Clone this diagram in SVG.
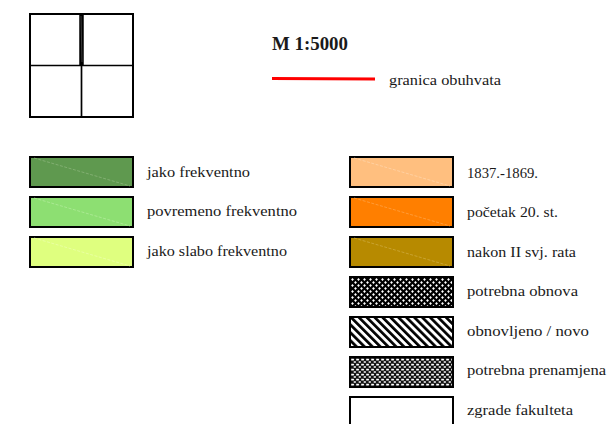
<svg xmlns="http://www.w3.org/2000/svg" width="611" height="424" viewBox="0 0 611 424">
<style>
text{font-family:"Liberation Serif",serif;font-size:14.5px;fill:#1a1a1a}
.b{stroke:#000;stroke-width:2;fill:none}
.box{stroke:#000;stroke-width:2}
.d{stroke-width:.7;stroke-dasharray:3 1.5;fill:none}
</style>
<defs>
<pattern id="p1" width="6" height="6" patternUnits="userSpaceOnUse" x="351" y="278">
<rect width="6" height="6" fill="#000"/>
<path d="M1.500 .1l1.400 1.400-1.400 1.400-1.400-1.400zM4.500 3.100l1.400 1.400-1.400 1.400-1.400-1.400z" fill="#fff"/>
</pattern>
<pattern id="p2" width="5.600" height="5.600" patternUnits="userSpaceOnUse" patternTransform="rotate(-45)">
<rect width="5.600" height="5.600" fill="#fff"/>
<rect width="2.700" height="5.600" fill="#000"/>
</pattern>
<pattern id="p3" width="5" height="5" patternUnits="userSpaceOnUse" x="351" y="358">
<rect width="5" height="5" fill="#111"/>
<path d="M.2 .7h2.400l.6 1-.6.7H.2zM2.700 3.200h2.100l.2 1-.4.6H2.700z" fill="#fff"/>
</pattern>
</defs>
<g id="key-map">
<rect class="b" x="30" y="14" width="103" height="103" fill="#fff"/>
<path d="M81.500 65.500V117M30 65.500H133" stroke="#000" stroke-width="1.700" fill="none"/>
<path d="M81.500 14V65.500" stroke="#000" stroke-width="4.500" fill="none"/>
<path d="M81 16L82 62" stroke="#777" stroke-width=".5" fill="none"/>
</g>
<g id="title"><text x="272" y="49.500" font-weight="bold" style="font-size:18.500px" textLength="76" lengthAdjust="spacingAndGlyphs">M 1:5000</text></g>
<g id="boundary">
<path d="M272 78.500L375 79" stroke="#f00" stroke-width="3" fill="none"/>
<text x="389" y="85" textLength="112" lengthAdjust="spacingAndGlyphs">granica obuhvata</text>
</g>
<g id="jako">
<rect class="box" x="30" y="157" width="103" height="30" fill="#5f994f"/>
<path class="d" d="M34 158L130 186" stroke="#8fb87f"/>
<text x="147" y="177" textLength="103" lengthAdjust="spacingAndGlyphs">jako frekventno</text>
</g>
<g id="povremeno">
<rect class="box" x="30" y="197" width="103" height="30" fill="#8ddf72"/>
<path class="d" d="M34 198L130 226" stroke="#b5ec9f"/>
<text x="147" y="216" textLength="150" lengthAdjust="spacingAndGlyphs">povremeno frekventno</text>
</g>
<g id="slabo">
<rect class="box" x="30" y="237" width="103" height="30" fill="#dfff7f"/>
<path class="d" d="M34 238L130 266" stroke="#ecffaf"/>
<text x="147" y="256" textLength="140" lengthAdjust="spacingAndGlyphs">jako slabo frekventno</text>
</g>
<g id="y1837">
<rect class="box" x="350" y="157" width="103" height="30" fill="#ffbf7f"/>
<path class="d" d="M354 158L450 186" stroke="#ffd7af"/>
<text x="467" y="178" textLength="71" lengthAdjust="spacingAndGlyphs">1837.-1869.</text>
</g>
<g id="y1900">
<rect class="box" x="350" y="197" width="103" height="30" fill="#ff7f00"/>
<path class="d" d="M354 198L450 226" stroke="#ffa64d"/>
<text x="467" y="217" textLength="91" lengthAdjust="spacingAndGlyphs">početak 20. st.</text>
</g>
<g id="y1945">
<rect class="box" x="350" y="237" width="103" height="30" fill="#b78a00"/>
<path class="d" d="M354 238L450 266" stroke="#d0ad45"/>
<text x="467" y="257" textLength="109" lengthAdjust="spacingAndGlyphs">nakon II svj. rata</text>
</g>
<g id="obnova">
<rect class="box" x="350" y="277" width="103" height="30" fill="url(#p1)"/>
<text x="467" y="296" textLength="111" lengthAdjust="spacingAndGlyphs">potrebna obnova</text>
</g>
<g id="novo">
<rect class="box" x="350" y="317" width="103" height="30" fill="url(#p2)"/>
<text x="467" y="336" textLength="122" lengthAdjust="spacingAndGlyphs">obnovljeno / novo</text>
</g>
<g id="prenamjena">
<rect class="box" x="350" y="357" width="103" height="30" fill="url(#p3)"/>
<text x="467" y="375" textLength="139" lengthAdjust="spacingAndGlyphs">potrebna prenamjena</text>
</g>
<g id="fakultet">
<rect class="box" x="350" y="397" width="103" height="30" fill="#fff"/>
<text x="467" y="415" textLength="106" lengthAdjust="spacingAndGlyphs">zgrade fakulteta</text>
</g>
</svg>
